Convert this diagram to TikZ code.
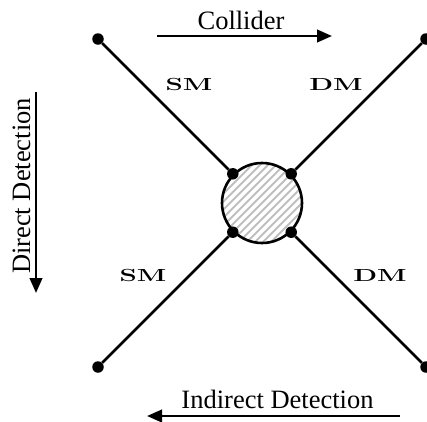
\documentclass[tikz,border=0pt]{standalone}
\usepackage{graphicx}
\usepackage{fontspec}
\newfontfamily\tnr{Liberation Serif}
\usetikzlibrary{arrows.meta}
\begin{document}
\begin{tikzpicture}[x=1pt,y=-1pt,
  dot/.style={circle,fill=black,inner sep=0pt,minimum size=11.5pt},
  leg/.style={line width=2.6pt},
  flow/.style={line width=2.6pt,-{Triangle[length=15pt,width=12.5pt]}},
  captext/.style={font=\tnr\fontsize{26.5}{30}\selectfont,inner sep=0pt},
  part/.style={inner sep=0pt,font=\fontsize{17.5}{20}\selectfont\bfseries},
  hatch/.style={gray!50,line width=1.8pt}]
\useasboundingbox (0,0) rectangle (427,421);
% hatching inside the blob
\begin{scope}
  \clip (262,203) circle (40pt);
  \foreach \k in {-120,-112,...,120}
    \draw[hatch] (262+\k-60,203+60) -- (262+\k+60,203-60);
\end{scope}
\node[circle,draw,line width=2.6pt,minimum size=80pt,inner sep=0pt] (blob) at (262,203) {};
% inner vertices
\node[dot] (d1) at (blob.135) {};
\node[dot] (d2) at (blob.45) {};
\node[dot] (d3) at (blob.225) {};
\node[dot] (d4) at (blob.315) {};
% outer ends
\node[dot] (o1) at (98,39) {};
\node[dot] (o2) at (426,39) {};
\node[dot] (o3) at (98,367) {};
\node[dot] (o4) at (426,367) {};
\draw[leg] (o1) -- (d1);
\draw[leg] (o2) -- (d2);
\draw[leg] (o3) -- (d3);
\draw[leg] (o4) -- (d4);
% particle labels
\node[part] (sm1) at (189,84) {\scalebox{1.58}[1]{SM}};
\node[part] (dm1) at (336,84) {\scalebox{1.58}[1]{DM}};
\node[part] (sm2) at (143,275) {\scalebox{1.58}[1]{SM}};
\node[part] (dm2) at (380,275) {\scalebox{1.58}[1]{DM}};
% process arrows
\coordinate (ca) at (157,36);
\coordinate (cb) at (332,36);
\draw[flow] (ca) -- (cb);
\node[captext,anchor=base] (col) at (241,29) {Collider};
\coordinate (ia) at (400,416);
\coordinate (ib) at (147,416);
\draw[flow] (ia) -- (ib);
\node[captext,anchor=base] (ind) at (277.5,408) {Indirect Detection};
\coordinate (da) at (36,92);
\coordinate (db) at (36,293);
\draw[flow] (da) -- (db);
\node[captext,anchor=base,rotate=90] (dir) at (30,186) {Direct Detection};
\end{tikzpicture}
\end{document}
